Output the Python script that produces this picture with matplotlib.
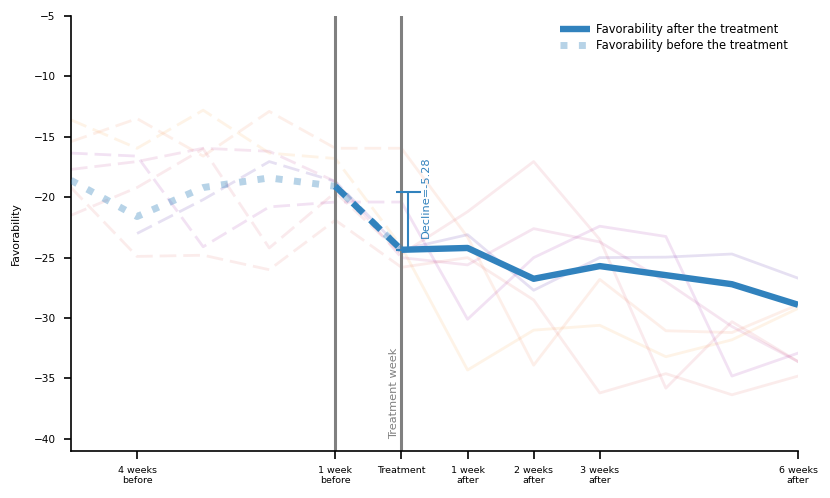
import numpy as np
import matplotlib
matplotlib.use("Agg")
import matplotlib.pyplot as plt

# ---------------- data ----------------
weeks = [-5, -4, -3, -2, -1, 0, 1, 2, 3, 4, 5, 6]
tick_pos = [-4, -1, 0, 1, 2, 3, 6]
tick_labels = ["4 weeks\nbefore", "1 week\nbefore", "Treatment", "1 week\nafter",
               "2 weeks\nafter", "3 weeks\nafter", "6 weeks\nafter"]

main_before = [-18.6, -21.6, -19.2, -18.4, -19.1, -24.35]          # weeks -5..0
main_after = [-19.1, -24.35, -24.2, -26.75, -25.7, -26.45, -27.2, -28.9]  # weeks -1..6

bg1 = [-13.6, -15.95, -12.8, -16.35, -16.8, -24.1, -34.3, -31.0, -30.6, -33.2, -31.8, -29.2]
bg2 = [-15.4, -13.5, -16.6, -12.9, -15.95, -15.95, -23.3, -33.9, -26.8, -31.05, -31.2, -28.9]
bg3 = [-16.35, -16.6, -24.1, -20.8, -20.4, -20.4, -30.1, -25.0, -22.4, -23.25, -34.8, -32.9]
bg4 = [-17.7, -17.05, -15.95, -16.2, -18.7, -25.0, -25.6, -22.6, -23.7, -27.0, -30.7, -33.6]
bg5 = [-21.5, -19.2, -16.0, -24.2, -19.6, -24.7, -21.2, -17.05, -23.5, -35.8, -30.3, -33.6]
bg6 = [np.nan, -23.0, -20.2, -17.05, -18.7, -24.35, -23.1, -27.7, -25.0, -24.96, -24.7, -26.7]
bg7 = [-19.2, -24.9, -24.8, -26.0, -21.9, -25.8, -25.0, -28.5, -36.2, -34.6, -36.35, -34.8]
bg_lines = [bg1, bg2, bg3, bg4, bg5, bg6, bg7]
bg_cvals = [0.78, 0.68, 0.32, 0.42, 0.55, 0.08, 0.6]

decline_top = -19.55
decline_bottom = -24.35
decline_text = "Decline=-5.28"

# ---------------- plot ----------------
fig = plt.figure(figsize=(8.3, 4.98), dpi=100)
ax = fig.add_axes([0.0855, 0.0944, 0.876, 0.8736])

blue = "#3182bd"
cmap = plt.get_cmap("plasma")
wk = np.array(weeks)
for vals, cv in zip(bg_lines, bg_cvals):
    v = np.array(vals, dtype=float)
    ax.plot(wk[:6], v[:6], color=cmap(cv), alpha=0.12, lw=2.0, dashes=(6, 2.5), zorder=1)
    ax.plot(wk[5:], v[5:], color=cmap(cv), alpha=0.12, lw=2.0, zorder=1)

ax.axvline(-1, color="#808080", lw=2.2, zorder=2)
ax.axvline(0, color="#808080", lw=2.2, zorder=2)

ax.plot(wk[:6], main_before, color=blue, alpha=0.35, lw=5, linestyle=":",
        label="Favorability before the treatment", zorder=3)
ax.plot(wk[4:6], main_after[:2], color=blue, lw=4.6, dashes=(2.2, 1.6), zorder=4)
ax.plot(wk[5:], main_after[1:], color=blue, lw=4.6, solid_capstyle="butt",
        label="Favorability after the treatment", zorder=4)

# decline bar
ax.errorbar([0.1], [(decline_top + decline_bottom) / 2],
            yerr=[[(decline_top - decline_bottom) / 2], [(decline_top - decline_bottom) / 2]],
            color=blue, lw=1.5, capsize=9, capthick=1.5, zorder=5)
ax.text(0.37, -23.4, decline_text, rotation=90, color=blue, fontsize=8.2,
        ha="center", va="bottom")

ax.text(-0.04, -40, "Treatment week", rotation=90, color="#808080", fontsize=8.2,
        ha="right", va="bottom")

ax.set_xlim(-5, 6)
ax.set_ylim(-41, -5)
ax.set_xticks(tick_pos)
ax.set_xticklabels(tick_labels, fontsize=6.8)
ax.set_yticks(np.arange(-40, -4, 5))
ax.tick_params(axis="y", labelsize=7.6, width=1.2, length=5, pad=6)
ax.tick_params(axis="x", width=1.2, length=5.5, pad=5)
ax.set_ylabel("Favorability", fontsize=7.8, labelpad=9)
for s in ["top", "right"]:
    ax.spines[s].set_visible(False)
for s in ["left", "bottom"]:
    ax.spines[s].set_linewidth(1.2)

h, l = ax.get_legend_handles_labels()
ax.legend([h[1], h[0]], [l[1], l[0]], loc="upper right", frameon=False, fontsize=8.3,
          handlelength=2.6, handletextpad=0.5, labelspacing=0.3,
          bbox_to_anchor=(1.0, 1.008))

fig.savefig("out.png", dpi=100)
